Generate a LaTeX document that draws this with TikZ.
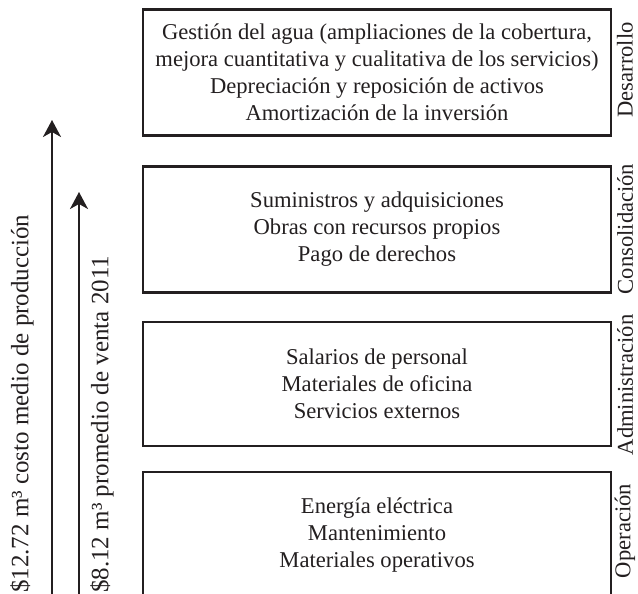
\documentclass[tikz,border=0pt]{standalone}
\usepackage{fontspec}
\setmainfont{Liberation Serif}
\usetikzlibrary{arrows.meta}
\definecolor{ink}{HTML}{231F20}
\begin{document}
\begin{tikzpicture}[x=1pt,y=-1pt]
	\tikzstyle{block}=[draw=ink,line width=2.4pt,minimum width=468pt,minimum height=126pt,align=center,text=ink,font=\fontsize{22.6}{27}\selectfont]
	\tikzstyle{phase}=[rotate=90,inner sep=0pt,text=ink,font=\fontsize{22.6}{27}\selectfont]
	\tikzstyle{cost}=[rotate=90,anchor=west,inner sep=0pt,text=ink,font=\fontsize{25}{30}\selectfont]
	\tikzstyle{rise}=[draw=ink,line width=2pt,-{Stealth[length=17pt,width=18pt,inset=5pt]}]
	\useasboundingbox (0,0) rectangle (638,594);
	\node[block] (b_1) at (377,72.5) {Gestión del agua (ampliaciones de la cobertura,\\mejora cuantitativa y cualitativa de los servicios)\\Depreciación y reposición de activos\\Amortización de la inversión};
	\node[block] (b_2) at (377,229.5) {Suministros y adquisiciones\\Obras con recursos propios\\Pago de derechos};
	\node[block,minimum height=124pt] (b_3) at (377,384) {Salarios de personal\\Materiales de oficina\\Servicios externos};
	\node[block] (b_4) at (377,535) {Energía eléctrica\\Mantenimiento\\Materiales operativos};
	\node[phase] (p_1) at (625,70) {Desarrollo};
	\node[phase] (p_2) at (625,229) {Consolidación};
	\node[phase] (p_3) at (625,385) {Administración};
	\node[phase] (p_4) at (625,531) {Operación};
	\node[cost] (c_1) at (22,593) {\$12.72 m³ costo medio de producción};
	\node[cost] (c_2) at (102,593) {\$8.12 m³ promedio de venta 2011};
	\coordinate (a_1) at (52,600);
	\coordinate (h_1) at (52,120);
	\coordinate (a_2) at (79,600);
	\coordinate (h_2) at (79,192);
	\draw[rise] (a_1) -- (h_1);
	\draw[rise] (a_2) -- (h_2);
\end{tikzpicture}
\end{document}
